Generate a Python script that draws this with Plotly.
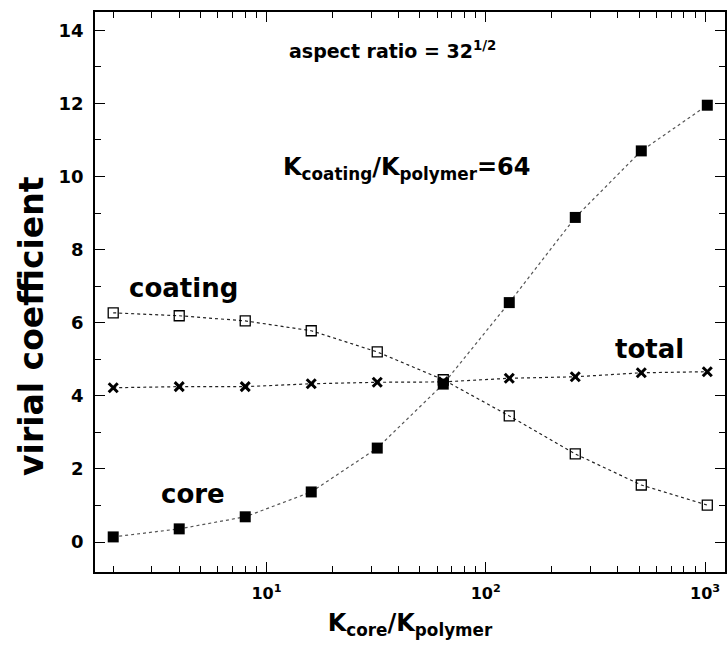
import plotly.graph_objects as go

# ---- data ----
ratio = [2, 4, 8, 16, 32, 64, 128, 256, 512, 1024]
core = [0.14, 0.36, 0.69, 1.37, 2.57, 4.32, 6.55, 8.88, 10.7, 11.95]
coating = [6.27, 6.19, 6.05, 5.78, 5.20, 4.44, 3.45, 2.41, 1.56, 1.01]
total = [4.22, 4.25, 4.25, 4.33, 4.37, 4.38, 4.48, 4.52, 4.63, 4.66]
x_tickvals = [10, 100, 1000]
x_ticktext = ["10<sup>1</sup>", "10<sup>2</sup>", "10<sup>3</sup>"]
y_tickvals = [0, 2, 4, 6, 8, 10, 12, 14]

FONT = "DejaVu Sans"
fig = go.Figure()

line_style = dict(color="#222", width=1.2, dash="dot")

fig.add_trace(go.Scatter(x=ratio, y=coating, mode="lines+markers", line=line_style,
                         marker=dict(symbol="square-open", size=10, color="black",
                                     line=dict(width=1.3, color="black")),
                         showlegend=False))
fig.add_trace(go.Scatter(x=ratio, y=total, mode="lines+markers", line=line_style,
                         marker=dict(symbol="x-thin", size=9, color="black",
                                     line=dict(width=3, color="black")),
                         showlegend=False))
fig.add_trace(go.Scatter(x=ratio, y=core, mode="lines+markers",
                         line=dict(color="#555", width=1.2, dash="dot"),
                         marker=dict(symbol="square", size=11, color="black"),
                         showlegend=False))

minor_x = [m * 10 ** e for e in range(0, 4) for m in range(2, 10)]

fig.update_xaxes(type="log", range=[0.218, 3.091],
                 tickvals=x_tickvals, ticktext=x_ticktext,
                 ticks="inside", ticklen=10, tickwidth=1.2, tickcolor="black",
                 minor=dict(tickvals=minor_x, ticks="inside", ticklen=6, tickcolor="black"),
                 showline=True, linecolor="black", linewidth=1.5, mirror="ticks",
                 showgrid=False, zeroline=False, ticklabelstandoff=6,
                 tickfont=dict(family=FONT, size=16, color="black", weight="bold"),
                 title=dict(text="K<sub>core</sub>/K<sub>polymer</sub>",
                            font=dict(family=FONT, size=24, color="black", weight="bold"),
                            standoff=12))
fig.update_yaxes(range=[-0.82, 14.5], tickvals=y_tickvals,
                 ticks="inside", ticklen=10, tickwidth=1.2, tickcolor="black",
                 minor=dict(dtick=1, tick0=1, ticks="inside", ticklen=6, tickcolor="black"),
                 showline=True, linecolor="black", linewidth=1.5, mirror="ticks",
                 showgrid=False, zeroline=False, ticklabelstandoff=6,
                 tickfont=dict(family=FONT, size=18, color="black", weight="bold"))

ann_font = dict(family=FONT, color="black", weight="bold")
annots = [
    dict(x=0.472, y=0.932, text="aspect ratio = 32<sup>1/2</sup>", size=19, angle=0),
    dict(x=0.495, y=0.721, text="K<sub>coating</sub>/K<sub>polymer</sub>=64", size=24, angle=0),
    dict(x=0.14, y=0.507, text="coating", size=26, angle=0),
    dict(x=0.88, y=0.398, text="total", size=26, angle=0),
    dict(x=0.155, y=0.139, text="core", size=26, angle=0),
    dict(x=-0.102, y=0.439, text="virial coefficient", size=33, angle=-90),
]
for a in annots:
    fig.add_annotation(x=a["x"], y=a["y"], xref="paper", yref="paper", text=a["text"],
                       xanchor="center", yanchor="middle", textangle=a["angle"],
                       showarrow=False, font=dict(size=a["size"], **ann_font))

fig.update_layout(width=727, height=649, plot_bgcolor="white", paper_bgcolor="white",
                  margin=dict(l=95, r=0, t=12, b=77))
fig.write_html("out.html")
